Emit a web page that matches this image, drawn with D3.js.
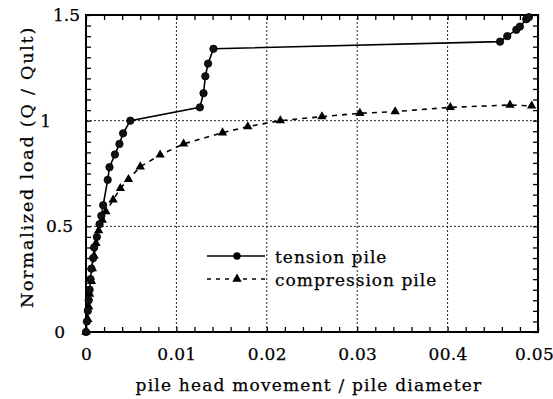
<!DOCTYPE html>
<html><head><meta charset="utf-8">
<script src="https://cdn.jsdelivr.net/npm/d3@7/dist/d3.min.js"></script>
<style>body{margin:0;background:#fff}svg{display:block}</style>
</head><body>
<svg id="c" width="553" height="399"></svg>
<script>
// ---- data ----
const tensionX = [0, 0.0001, 0.0002, 0.0003, 0.0004, 0.0005, 0.0006, 0.0008, 0.0009, 0.0012, 0.0015, 0.0017, 0.0019, 0.0024, 0.0026, 0.0032, 0.0037, 0.0041, 0.0049, 0.0126, 0.0130, 0.0132, 0.0135, 0.0141, 0.0458, 0.0466, 0.0476, 0.0480, 0.0487, 0.0490];
const tensionY = [0, 0.05, 0.10, 0.15, 0.20, 0.25, 0.30, 0.35, 0.40, 0.45, 0.51, 0.55, 0.60, 0.72, 0.78, 0.84, 0.89, 0.94, 1.00, 1.063, 1.13, 1.21, 1.27, 1.34, 1.374, 1.40, 1.43, 1.445, 1.48, 1.49];
const compressionX = [0, 0.0002, 0.0003, 0.0004, 0.0006, 0.0007, 0.0009, 0.0011, 0.0014, 0.0018, 0.0022, 0.0030, 0.0038, 0.0047, 0.0060, 0.0082, 0.0108, 0.0151, 0.0179, 0.0215, 0.0261, 0.0303, 0.0342, 0.0403, 0.0469, 0.0493];
const compressionY = [0, 0.06, 0.12, 0.18, 0.24, 0.30, 0.36, 0.42, 0.48, 0.53, 0.57, 0.625, 0.68, 0.722, 0.782, 0.838, 0.89, 0.943, 0.972, 1.00, 1.019, 1.035, 1.043, 1.063, 1.074, 1.07];
const xTicks = [0, 0.01, 0.02, 0.03, 0.04, 0.05];
const xTickLabels = ["0", "0.01", "0.02", "0.03", "00.4", "0.05"];
const yTicks = [0, 0.5, 1, 1.5];
const yTickLabels = ["0", "0.5", "1", "1.5"];
const xGrid = [0.01, 0.02, 0.03, 0.04];
const yGrid = [0.5, 1];
const seriesNames = ["tension pile", "compression pile"];
const xTitle = "pile head movement / pile diameter";
const yTitle = "Normalized load (Q / Qult)";

// ---- drawing ----
const svg = d3.select("#c");
const FONT = "'DejaVu Serif', 'Liberation Serif', serif";
const L = 86, R = 538, T = 15, B = 332;
const x = d3.scaleLinear().domain([0, 0.05]).range([L, R]);
const y = d3.scaleLinear().domain([0, 1.5]).range([B, T]);
function ink(sel){ sel.attr("font-family", FONT).attr("fill", "#000").attr("stroke", "#000").attr("stroke-width", 0.25); }

// grid
const g = svg.append("g").attr("stroke", "#222").attr("stroke-width", 1).attr("stroke-dasharray", "2,2");
g.selectAll(".vx").data(xGrid).join("line")
  .attr("x1", d => x(d)).attr("x2", d => x(d)).attr("y1", B).attr("y2", T);
g.selectAll(".hy").data(yGrid).join("line")
  .attr("y1", d => y(d)).attr("y2", d => y(d)).attr("x1", L).attr("x2", R);

// minor ticks (inward)
const xMinor = d3.range(0, 0.0501, 0.002);
const yMinor = d3.range(0, 1.501, 0.05);
function styleAxis(sel){ sel.select(".domain").remove(); sel.selectAll("line").attr("stroke","#000").attr("stroke-width",1.3); }
svg.append("g").attr("transform", `translate(0,${B})`)
  .call(d3.axisBottom(x).tickValues(xMinor).tickSize(-5).tickFormat("")).call(styleAxis);
svg.append("g").attr("transform", `translate(0,${T})`)
  .call(d3.axisTop(x).tickValues(xMinor).tickSize(-5).tickFormat("")).call(styleAxis);
svg.append("g").attr("transform", `translate(${L},0)`)
  .call(d3.axisLeft(y).tickValues(yMinor).tickSize(-5).tickFormat("")).call(styleAxis);
svg.append("g").attr("transform", `translate(${R},0)`)
  .call(d3.axisRight(y).tickValues(yMinor).tickSize(-5).tickFormat("")).call(styleAxis);

// tick labels
const xShift = {"0.05": -4};
const xAx = svg.append("g").attr("transform", `translate(0,${B})`)
  .call(d3.axisBottom(x).tickValues(xTicks).tickSize(0).tickPadding(16)
    .tickFormat((d, i) => xTickLabels[i]));
xAx.select(".domain").remove();
xAx.selectAll("text").call(ink).attr("font-size", 17).attr("letter-spacing", 0.3)
  .attr("dx", (d, i) => xShift[xTickLabels[i]] || 0);

const yShift = {"0": -11, "0.5": -3, "1": -25, "1.5": 4};
const yAx = svg.append("g").attr("transform", `translate(${L},0)`)
  .call(d3.axisLeft(y).tickValues(yTicks).tickSize(0).tickPadding(10)
    .tickFormat((d, i) => yTickLabels[i]));
yAx.select(".domain").remove();
yAx.selectAll("text").call(ink).attr("font-size", 17)
  .attr("dx", (d, i) => yShift[yTickLabels[i]]);

// frame
svg.append("rect").attr("x", L).attr("y", T).attr("width", R - L).attr("height", B - T)
  .attr("fill", "none").attr("stroke", "#000").attr("stroke-width", 2);

// series
const tension = tensionX.map((v, i) => [v, tensionY[i]]);
const compression = compressionX.map((v, i) => [v, compressionY[i]]);
const line = d3.line().x(d => x(d[0])).y(d => y(d[1]));
svg.append("path").datum(compression).attr("d", line).attr("fill", "none")
  .attr("stroke", "#000").attr("stroke-width", 1.6).attr("stroke-dasharray", "5,5");
svg.append("path").datum(tension).attr("d", line).attr("fill", "none")
  .attr("stroke", "#000").attr("stroke-width", 1.6);
const tri = d3.symbol().type(d3.symbolTriangle).size(38);
svg.append("g").selectAll("path").data(compression).join("path")
  .attr("d", tri).attr("transform", d => `translate(${x(d[0])},${y(d[1])})`).attr("fill", "#000");
svg.append("g").selectAll("circle").data(tension).join("circle")
  .attr("cx", d => x(d[0])).attr("cy", d => y(d[1])).attr("r", 3.7)
  .attr("fill", "#111").attr("stroke", "#000").attr("stroke-width", 0.8);

// legend
const lg = svg.append("g");
const legY = [256, 279];
lg.append("line").attr("x1", 207).attr("x2", 265).attr("y1", legY[0]).attr("y2", legY[0])
  .attr("stroke", "#000").attr("stroke-width", 1.6);
lg.append("circle").attr("cx", 237).attr("cy", legY[0]).attr("r", 3.7).attr("fill", "#000");
lg.append("line").attr("x1", 207).attr("x2", 265).attr("y1", legY[1]).attr("y2", legY[1])
  .attr("stroke", "#000").attr("stroke-width", 1.6).attr("stroke-dasharray", "4,5");
lg.append("path").attr("d", tri).attr("transform", `translate(237,${legY[1]})`).attr("fill", "#000");
lg.selectAll("text").data(seriesNames).join("text")
  .attr("x", 275).attr("y", (d, i) => legY[i] + 7)
  .call(ink).attr("font-size", 17).attr("letter-spacing", 1).text(d => d);

// titles
svg.append("text").attr("x", (L + R) / 2 - 3).attr("y", 391).attr("text-anchor", "middle")
  .call(ink).attr("font-size", 17).attr("letter-spacing", 1.2).text(xTitle);
svg.append("text").attr("transform", "translate(33,167) rotate(-90)").attr("text-anchor", "middle")
  .call(ink).attr("font-size", 17.5).attr("letter-spacing", 1.8).text(yTitle);
</script>
</body></html>
